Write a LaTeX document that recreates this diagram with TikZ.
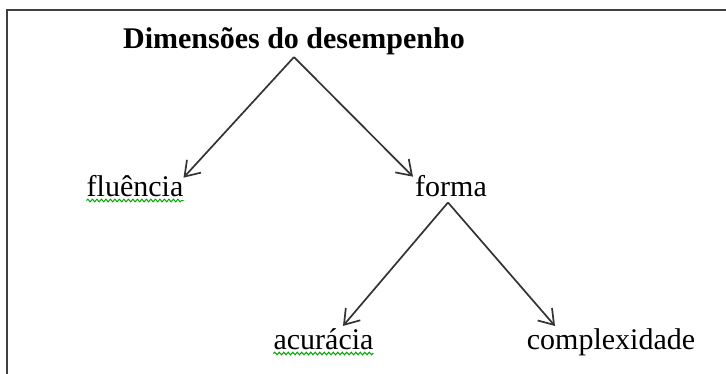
\documentclass[tikz,border=0pt]{standalone}
\usepackage{fontspec}
\setmainfont{Liberation Serif}
\usetikzlibrary{arrows.meta,decorations.pathmorphing}
\begin{document}
\begin{tikzpicture}[x=1pt,y=-1pt,
  lbl/.style={font=\fontsize{30}{36}\selectfont, inner sep=0pt, anchor=base},
  conn/.style={draw=black!80, line width=1.7pt, -{Straight Barb[length=14pt,width=19pt,line width=1.7pt]}},
  squig/.style={draw=green!65!black, line width=1pt, decorate, decoration={snake, amplitude=1.3pt, segment length=4.5pt}},
  frame/.style={draw=black!75, line width=2.8pt}]
\useasboundingbox (0,0) rectangle (726,373);
\draw[frame] (7,390) -- (7,10) -- (740,10);
\node[lbl, font=\fontsize{30}{36}\selectfont\bfseries] (title) at (294,48) {Dimensões do desempenho};
\node[lbl] (flu) at (135,196) {fluência};
\node[lbl] (forma) at (451,196) {forma};
\node[lbl] (acu) at (323.5,349) {acurácia};
\node[lbl] (comp) at (611,349) {complexidade};
\draw[conn] ([yshift=-2.5pt]title.south) -- ([yshift=-3pt]flu.north east);
\draw[conn] ([yshift=-2.5pt]title.south) -- ([xshift=-2pt,yshift=-2pt]forma.north west);
\draw[conn] ([xshift=-3pt,yshift=-6pt]forma.south) -- ([xshift=19.5pt,yshift=2pt]acu.north);
\draw[conn] ([xshift=-3pt,yshift=-6pt]forma.south) -- ([xshift=-56pt,yshift=2pt]comp.north);
\draw[squig] ([yshift=-4.5pt]flu.base west) -- ([yshift=-4.5pt]flu.base east);
\draw[squig] ([yshift=-4.5pt]acu.base west) -- ([yshift=-4.5pt]acu.base east);
\end{tikzpicture}
\end{document}
